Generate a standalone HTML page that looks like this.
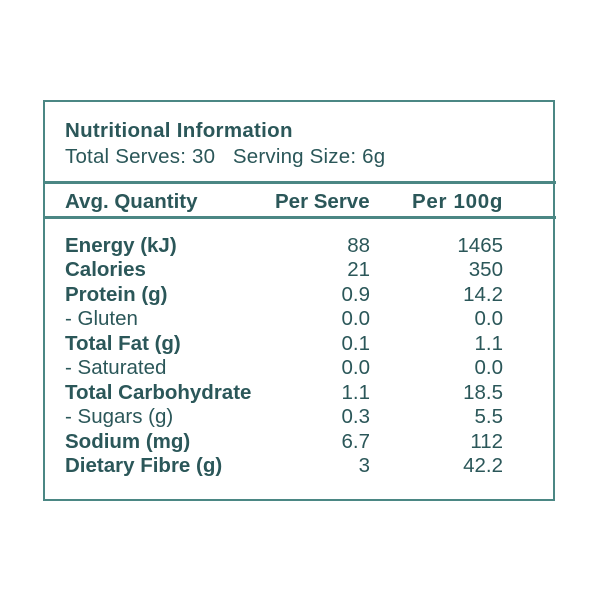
<!DOCTYPE html>
<html><head><style>
body{margin:0;width:600px;height:600px;background:#fff;position:relative;font-family:"Liberation Sans",sans-serif;color:#2b5759}
.box{position:absolute;left:43px;top:100px;width:508px;height:397px;border:2.5px solid #4b8784}
.hl{position:absolute;left:43px;width:513px;height:2.5px;background:#4b8784}
.t{position:absolute;white-space:nowrap;font-size:20.5px;line-height:20px}
.b{font-weight:bold}
.r{text-align:right}
</style></head><body>
<div class="box"></div>
<div class="hl" style="top:181px"></div>
<div class="hl" style="top:216px"></div>
<div class="t b" style="left:65px;top:121px;letter-spacing:0.3px">Nutritional Information</div>
<div class="t" style="left:65px;top:147px;letter-spacing:0.2px">Total Serves: 30&nbsp;&nbsp;&nbsp;Serving Size: 6g</div>
<div class="t b" style="left:65px;top:192px">Avg. Quantity</div>
<div class="t b" style="left:275px;top:192px">Per Serve</div>
<div class="t b" style="left:412px;top:192px;letter-spacing:0.7px">Per 100g</div>
<div id="rows"></div>
<script>
var d=[["Energy (kJ)",1,"88","1465"],["Calories",1,"21","350"],["Protein (g)",1,"0.9","14.2"],["- Gluten",0,"0.0","0.0"],["Total Fat (g)",1,"0.1","1.1"],["- Saturated",0,"0.0","0.0"],["Total Carbohydrate",1,"1.1","18.5"],["- Sugars (g)",0,"0.3","5.5"],["Sodium (mg)",1,"6.7","112"],["Dietary Fibre (g)",1,"3","42.2"]];
var h="";d.forEach(function(r,i){var y=236+i*24.45;
h+='<div class="t'+(r[1]?' b':'')+'" style="left:65px;top:'+y+'px">'+r[0]+'</div>';
h+='<div class="t r" style="left:270px;width:100px;top:'+y+'px">'+r[2]+'</div>';
h+='<div class="t r" style="left:403px;width:100px;top:'+y+'px">'+r[3]+'</div>';});
document.getElementById("rows").innerHTML=h;
</script>
</body></html>
